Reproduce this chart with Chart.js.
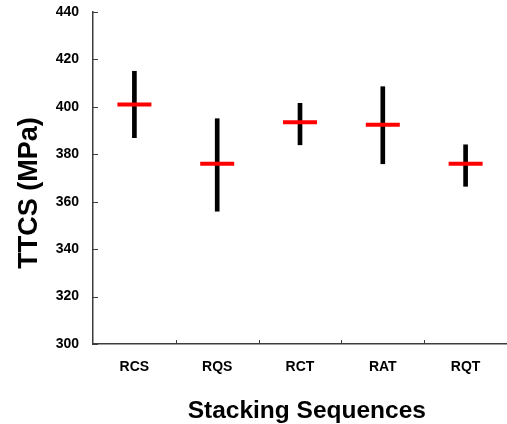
<!DOCTYPE html>
<html>
<head>
<meta charset="utf-8">
<script src="https://cdn.jsdelivr.net/npm/chart.js@4.4.1/dist/chart.umd.min.js"></script>
<style>
    html, body { margin: 0; padding: 0; background: #ffffff; }
    #wrap { width: 507px; height: 424px; position: relative; }
</style>
</head>
<body>
<div id="wrap"><canvas id="ttcsChart"></canvas></div>
<script>
// Stacking sequence categories
const sequences = ['RCS', 'RQS', 'RCT', 'RAT', 'RQT'];

// TTCS values (MPa)
const meanValues = [401, 376, 393.5, 392.5, 376];
const upperValues = [415, 395, 401.5, 408.5, 384];
const lowerValues = [387, 356, 384, 376, 366.5];

// Y axis ticks
const yTickValues = [300, 320, 340, 360, 380, 400, 420, 440];

const axisFont = 'Liberation Sans, Arial, sans-serif';
const axisColor = '#3c3c3c';

// error bars as floating bars
const rangeData = sequences.map((s, i) => [lowerValues[i], upperValues[i]]);

// Small tick marks pointing into the plot area
const inwardTicks = {
    id: 'inwardTicks',
    afterDraw(chart) {
        const ctx = chart.ctx;
        const x = chart.scales.x;
        const y = chart.scales.y;
        ctx.save();
        ctx.strokeStyle = axisColor;
        ctx.lineWidth = 1;
        ctx.beginPath();
        y.ticks.forEach((t, i) => {
            const py = Math.round(y.getPixelForTick(i)) + 0.5;
            ctx.moveTo(y.right, py);
            ctx.lineTo(y.right + 5, py);
        });
        const half = (x.getPixelForValue(1) - x.getPixelForValue(0)) / 2;
        for (let i = 1; i < sequences.length; i++) {
            const px = Math.round(x.getPixelForValue(i) - half) + 0.5;
            ctx.moveTo(px, x.top);
            ctx.lineTo(px, x.top - 4);
        }
        ctx.stroke();
        ctx.restore();
    }
};

new Chart(document.getElementById('ttcsChart'), {
    type: 'bar',
    data: {
        labels: sequences,
        datasets: [
            {
                type: 'line',
                label: 'Mean',
                data: meanValues,
                showLine: false,
                pointStyle: 'line',
                pointRadius: 17,
                pointHoverRadius: 17,
                borderWidth: 4,
                pointBorderWidth: 4,
                borderColor: '#ff0000',
                backgroundColor: '#ff0000',
                order: 1
            },
            {
                label: 'Range',
                data: rangeData,
                backgroundColor: '#000000',
                barThickness: 4,
                borderSkipped: false,
                order: 2
            }
        ]
    },
    options: {
        responsive: true,
        maintainAspectRatio: false,
        animation: false,
        layout: { autoPadding: false, padding: { left: 0, right: 0, top: 12, bottom: 0 } },
        plugins: {
            legend: { display: false },
            tooltip: { enabled: false }
        },
        scales: {
            x: {
                offset: true,
                grid: { display: true, drawOnChartArea: false, drawTicks: false, offset: true },
                border: { display: true, color: axisColor, width: 1.5 },
                ticks: {
                    color: '#000000',
                    padding: 15,
                    font: { family: axisFont, size: 14, weight: 'bold' }
                },
                title: {
                    display: true,
                    // leading spaces nudge the title right like the original
                    text: '\u00a0\u00a0Stacking Sequences',
                    color: '#000000',
                    padding: { top: 0, bottom: -2 },
                    font: { family: axisFont, size: 24.5, weight: 'bold' }
                },
                afterFit(scale) {
                    scale.height = 80;
                    scale.paddingLeft = 0;
                    scale.paddingRight = 0;
                }
            },
            y: {
                min: 300,
                max: 440,
                afterBuildTicks(scale) {
                    scale.ticks = yTickValues.map(v => ({ value: v }));
                },
                grid: { display: true, drawOnChartArea: false, drawTicks: false },
                border: { display: true, color: axisColor, width: 1.5 },
                ticks: {
                    color: '#000000',
                    padding: 14,
                    font: { family: axisFont, size: 14, weight: 'bold' }
                },
                title: {
                    display: true,
                    // trailing spaces push the rotated title a bit lower
                    text: 'TTCS (MPa)\u00a0\u00a0\u00a0\u00a0',
                    color: '#000000',
                    padding: { top: 13, bottom: 0 },
                    font: { family: axisFont, size: 27, weight: 'bold' }
                },
                afterFit(scale) {
                    scale.width = 93;
                    scale.paddingTop = 0;
                    scale.paddingBottom = 0;
                }
            }
        }
    },
    plugins: [inwardTicks]
});
</script>
</body>
</html>
